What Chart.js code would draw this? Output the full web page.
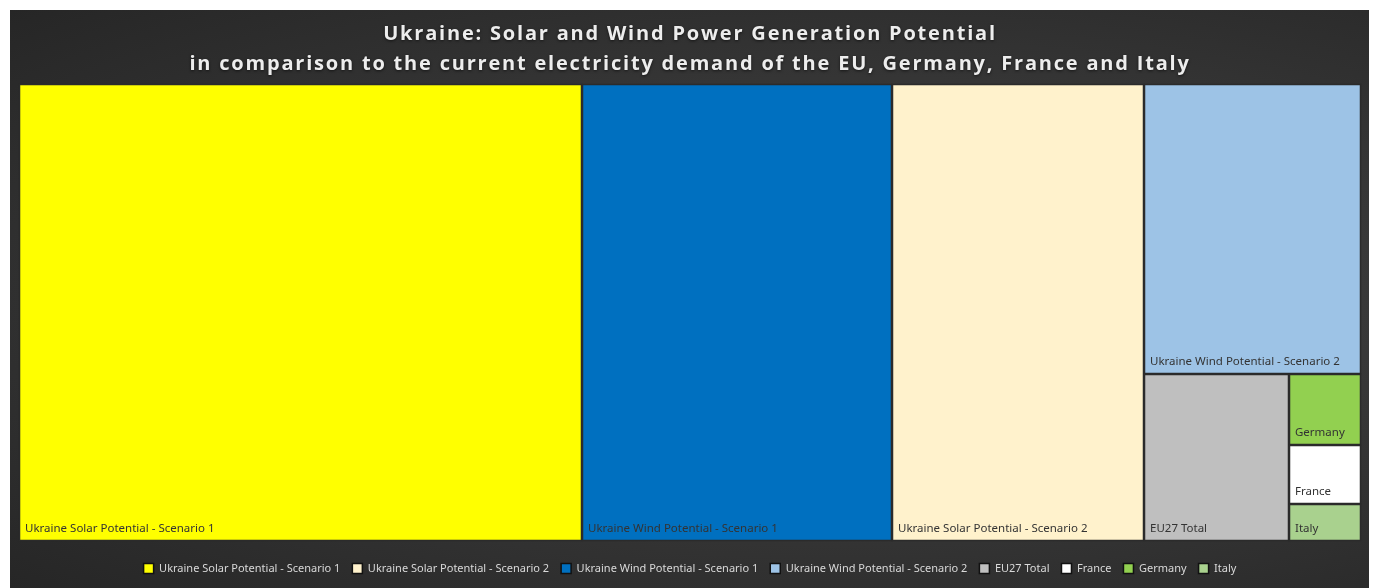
<!DOCTYPE html>
<html>
<head>
<meta charset="utf-8">
<script src="https://cdn.jsdelivr.net/npm/chart.js@4.4.1/dist/chart.umd.min.js"></script>
<style>
    html, body { margin: 0; background: #fff; }
    #panel {
        position: absolute; left: 10px; top: 10px; width: 1359px; height: 578px;
        background: radial-gradient(ellipse at 62% 50%, #4a4a4a 0%, #383838 45%, #262626 100%);
    }
</style>
</head>
<body>
<div id="panel"><canvas id="chart"></canvas></div>
<script>
// legend / data order
const categories = [
    'Ukraine Solar Potential - Scenario 1',
    'Ukraine Solar Potential - Scenario 2',
    'Ukraine Wind Potential - Scenario 1',
    'Ukraine Wind Potential - Scenario 2',
    'EU27 Total',
    'France',
    'Germany',
    'Italy'
];
// TWh
const values = [29800, 13300, 16400, 7300, 2800, 490, 590, 310];
const colors = ['#FFFF00', '#FFF2CC', '#0070C0', '#9DC3E6', '#BFBFBF', '#FFFFFF', '#92D050', '#A9D18E'];
const titleLines = [
    'Ukraine: Solar and Wind Power Generation Potential',
    'in comparison to the current electricity demand of the EU, Germany, France and Italy'
];

function worst(row, side) {
    const s = row.reduce((a, r) => a + r.area, 0);
    const mx = Math.max(...row.map(r => r.area));
    const mn = Math.min(...row.map(r => r.area));
    return Math.max(side * side * mx / (s * s), s * s / (side * side * mn));
}

// squarified treemap layout
function squarify(items, x, y, w, h) {
    const out = [];
    let rest = items.slice();
    while (rest.length) {
        const side = Math.min(w, h);
        const row = [rest[0]];
        let k = 1;
        while (k < rest.length && worst(row.concat(rest[k]), side) <= worst(row, side)) {
            row.push(rest[k]);
            k++;
        }
        rest = rest.slice(k);
        const sum = row.reduce((a, r) => a + r.area, 0);
        if (w >= h) {
            const cw = sum / h;
            let cy = y;
            row.forEach(r => {
                const rh = r.area / cw;
                out.push({i: r.i, x: x, y: cy, w: cw, h: rh});
                cy += rh;
            });
            x += cw; w -= cw;
        } else {
            const rh = sum / w;
            let cx = x;
            row.forEach(r => {
                const rw = r.area / rh;
                out.push({i: r.i, x: cx, y: y, w: rw, h: rh});
                cx += rw;
            });
            y += rh; h -= rh;
        }
    }
    return out;
}

const treemapPlugin = {
    id: 'treemap',
    afterLayout(chart) {
        // wider letter spacing for the title only
        const tb = chart.titleBlock;
        if (tb && !tb._spaced) {
            const orig = tb.draw.bind(tb);
            tb.draw = function () {
                const ctx = chart.ctx;
                ctx.save();
                ctx.letterSpacing = '1.8px';
                ctx.shadowColor = 'rgba(0,0,0,0.6)';
                ctx.shadowBlur = 3;
                ctx.shadowOffsetY = 1;
                orig();
                ctx.restore();
            };
            tb._spaced = true;
        }
    },
    afterDatasetsDraw(chart) {
        const {ctx, chartArea, scales} = chart;
        const W = chartArea.right - chartArea.left;
        const H = chartArea.bottom - chartArea.top;
        const visible = values.map((v, i) => ({i, v})).filter(d => chart.isDatasetVisible(d.i));
        const total = visible.reduce((a, d) => a + d.v, 0);
        const items = visible
            .map(d => ({i: d.i, area: d.v / total * W * H}))
            .sort((a, b) => b.area - a.area);
        const cells = squarify(items, 0, 0, W, H);

        ctx.save();
        cells.forEach(c => {
            const x0 = Math.round(scales.x.getPixelForValue(c.x / W));
            const x1 = Math.round(scales.x.getPixelForValue((c.x + c.w) / W));
            const y0 = Math.round(scales.y.getPixelForValue(c.y / H));
            const y1 = Math.round(scales.y.getPixelForValue((c.y + c.h) / H));
            ctx.fillStyle = colors[c.i];
            ctx.fillRect(x0, y0, x1 - x0, y1 - y0);
            ctx.strokeStyle = '#2b2b2b';
            ctx.lineWidth = 1.5;
            ctx.strokeRect(x0 + 0.5, y0 + 0.5, x1 - x0 - 1, y1 - y0 - 1);
            ctx.fillStyle = '#333333';
            ctx.font = '11.5px "Noto Sans", sans-serif';
            ctx.textBaseline = 'middle';
            ctx.textAlign = 'left';
            ctx.fillText(categories[c.i], x0 + 6, y1 - 12);
        });
        ctx.restore();
    }
};

const datasets = categories.map((name, i) => ({
    label: name,
    data: [],
    backgroundColor: colors[i],
    borderColor: '#1e1e1e',
    borderWidth: 1
}));

new Chart(document.getElementById('chart'), {
    type: 'scatter',
    data: {datasets},
    options: {
        responsive: true,
        maintainAspectRatio: false,
        animation: false,
        layout: {padding: {left: 9, right: 8, top: 0, bottom: 4}},
        scales: {
            x: {
                type: 'linear', min: 0, max: 1, display: true,
                grid: {display: false}, border: {display: false},
                ticks: {display: false},
                // empty title only reserves the gap above the legend
                title: {display: true, text: '', font: {size: 2, lineHeight: 1}, padding: 0}
            },
            y: {type: 'linear', min: 0, max: 1, reverse: true, display: false}
        },
        plugins: {
            tooltip: {enabled: false},
            title: {
                display: true,
                text: titleLines,
                color: '#ededed',
                font: {family: '"Open Sans", sans-serif', size: 20, weight: 'bold', lineHeight: 1.5},
                padding: {top: 9, bottom: 5}
            },
            legend: {
                position: 'bottom',
                labels: {
                    color: '#d9d9d9',
                    boxWidth: 10,
                    boxHeight: 10,
                    padding: 12,
                    font: {family: '"Noto Sans", sans-serif', size: 11},
                    generateLabels(chart) {
                        return chart.data.datasets.map((ds, i) => ({
                            text: ds.label,
                            fillStyle: ds.backgroundColor,
                            strokeStyle: '#111111',
                            lineWidth: 1.5,
                            hidden: !chart.isDatasetVisible(i),
                            datasetIndex: i,
                            fontColor: '#d9d9d9'
                        }));
                    }
                }
            }
        }
    },
    plugins: [treemapPlugin]
});
</script>
</body>
</html>
